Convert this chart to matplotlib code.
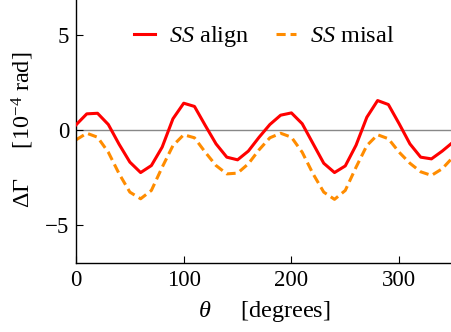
import matplotlib
matplotlib.use("Agg")
import matplotlib.pyplot as plt

theta = list(range(0, 360, 10))

ss_align = [0.27, 0.85, 0.88, 0.29, -0.75, -1.69, -2.24, -1.87, -0.90, 0.59,
            1.41, 1.24, 0.24, -0.73, -1.43, -1.57, -1.11, -0.38, 0.29, 0.78,
            0.90, 0.33, -0.71, -1.75, -2.24, -1.89, -0.80, 0.67, 1.55, 1.34,
            0.33, -0.73, -1.43, -1.52, -1.11, -0.64]

ss_misal = [-0.52, -0.17, -0.38, -1.17, -2.30, -3.27, -3.62, -3.18, -1.96, -0.82,
            -0.25, -0.41, -1.17, -1.87, -2.31, -2.27, -1.78, -1.04, -0.41, -0.17,
            -0.38, -1.17, -2.30, -3.27, -3.65, -3.18, -1.96, -0.82, -0.25, -0.46,
            -1.17, -1.75, -2.20, -2.39, -2.04, -1.43]

x_ticks = [0, 100, 200, 300]
y_ticks = [-5, 0, 5]

plt.rcParams["font.family"] = ["Liberation Serif", "DejaVu Serif"]
plt.rcParams["mathtext.fontset"] = "custom"
plt.rcParams["mathtext.rm"] = "Liberation Serif"
plt.rcParams["mathtext.it"] = "Liberation Serif:italic"

fig = plt.figure(figsize=(4.51, 3.32), dpi=100)
ax = fig.add_axes([76 / 451, 69 / 332, 377 / 451, 266 / 332])

ax.axhline(0, color="#888888", lw=1.0, zorder=1)
ax.plot(theta, ss_align, color="#ff0000", lw=2.2, label=r"$SS$ align", zorder=3)
ax.plot(theta, ss_misal, color="#ff8c00", lw=2.2, dashes=(3, 1.6),
        label=r"$SS$ misal", zorder=2)

ax.set_xlim(0, 350)
ax.set_ylim(-7, 7)
ax.set_xticks(x_ticks)
ax.set_yticks(y_ticks)
ax.set_yticklabels(["\u22125", "0", "5"])
ax.tick_params(direction="in", length=5, width=0.8, labelsize=16.5, pad=5)

ax.spines["top"].set_visible(False)
ax.spines["right"].set_visible(False)
for s in ("left", "bottom"):
    ax.spines[s].set_linewidth(1.0)

ax.set_xlabel(r"$\theta$     [degrees]", fontsize=17.5, labelpad=6)
ax.set_ylabel("\u0394\u0393     [10$^{\u22124}$ rad]", fontsize=17.5, labelpad=6)

ax.legend(loc="center", ncol=2, frameon=False, fontsize=17.5,
          handlelength=0.85, columnspacing=1.07, handletextpad=0.58,
          bbox_to_anchor=(0.5, 0.85))

fig.savefig("out.png", dpi=100)
